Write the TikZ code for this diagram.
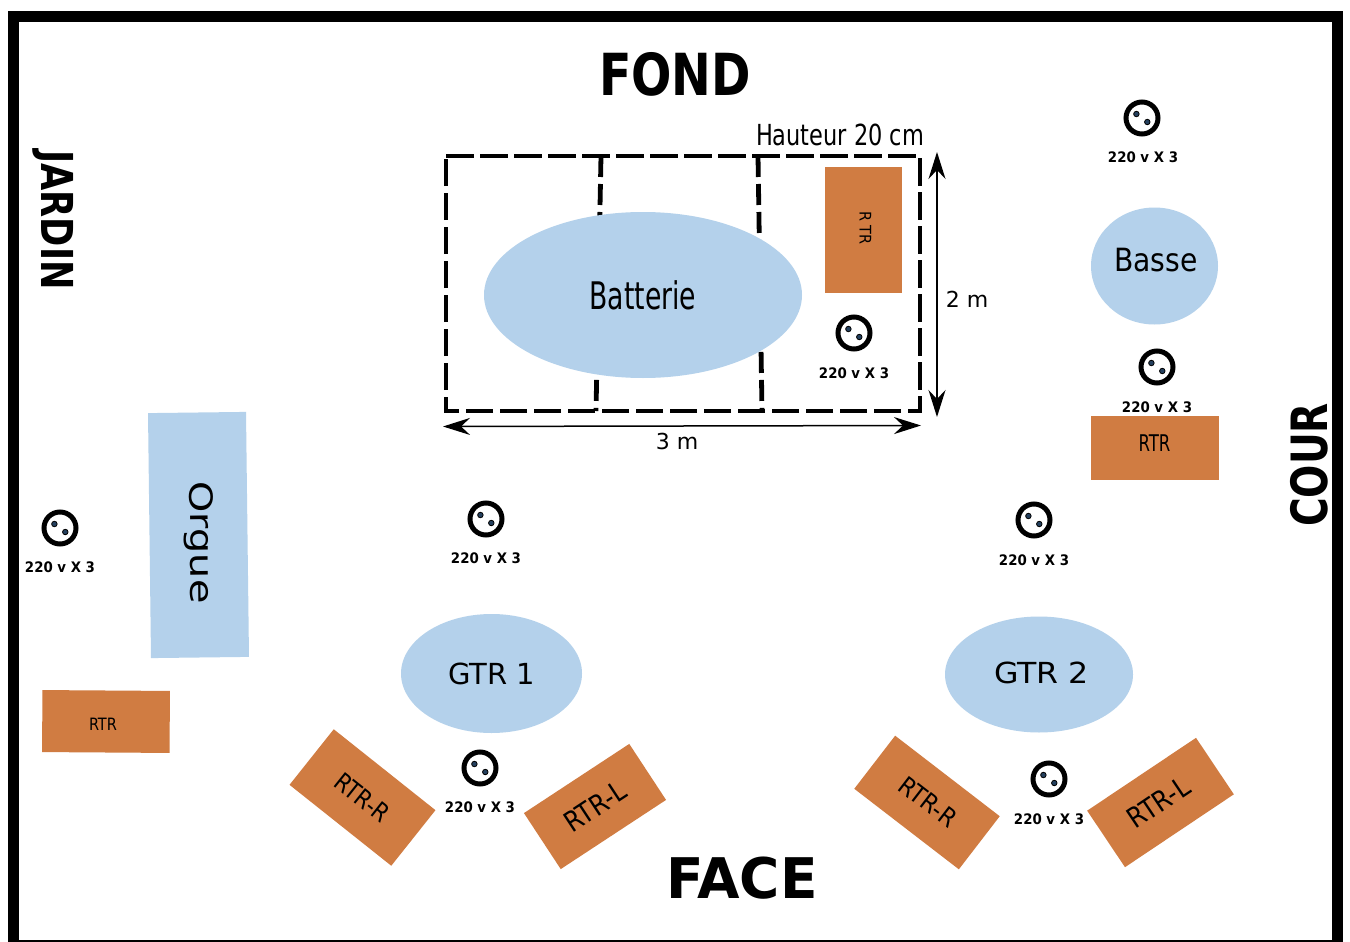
\documentclass[tikz,border=0pt]{standalone}
\usepackage{fontspec}
\setmainfont{DejaVu Sans}
\newfontfamily\cond{DejaVu Sans Condensed}
\usetikzlibrary{arrows.meta,calc,shapes.geometric}
\definecolor{blob}{HTML}{B4D1EB}
\definecolor{amp}{HTML}{D07C42}
\definecolor{pincol}{HTML}{24405E}
\newcommand{\fs}[1]{\fontsize{#1}{#1}\selectfont}
% socket: name, x, y of the socket, x, y of its label
\newcommand{\socket}[5]{%
  \node[plug] (#1) at (#2,#3) {};
  \node[pin] (#1a) at ($(#1)+(-5.6,-4)$) {};
  \node[pin] (#1b) at ($(#1)+(5.3,4)$) {};
  \node[plugtext] (#1t) at (#4,#5) {\scalebox{0.92}[1]{220 v X 3}};
}
\tikzset{
  x=1pt,y=-1pt,
  frame/.style={draw=black,line width=11pt,line join=miter},
  blobshape/.style={ellipse,fill=blob,inner sep=0pt,text=black},
  ampbox/.style={rectangle,fill=amp,inner sep=0pt,text=black},
  riser/.style={draw=black,line width=4.8pt,dash pattern=on 27.5pt off 6.5pt},
  divider/.style={draw=black,line width=4.8pt,dash pattern=on 21pt off 7pt},
  dim/.style={draw=black,line width=1.5pt,{Stealth[length=27pt,width=17pt,inset=9pt]}-{Stealth[length=27pt,width=17pt,inset=9pt]}},
  plug/.style={circle,draw=black,fill=white,line width=5pt,minimum size=32pt,inner sep=0pt},
  pin/.style={circle,draw=black,fill=pincol,line width=0.8pt,minimum size=5.5pt,inner sep=0pt},
  plugtext/.style={font=\bfseries\fs{14.5},inner sep=0pt},
  side/.style={inner sep=0pt},
  dimtext/.style={font=\fs{22},inner sep=0pt},
}
\begin{document}
\begin{tikzpicture}
\useasboundingbox (0,0) rectangle (1350,942);
\fill[white] (0,0) rectangle (1350,942);
\begin{scope}
\clip (0,0) rectangle (1350,942);
\draw[frame] (13.5,16.5) rectangle (1337.5,945);
\end{scope}

% titles
\node[side,font=\cond\bfseries\fs{58}] (fond) at (675,74) {\scalebox{0.91}[1]{FOND}};
\node[side,font=\bfseries\fs{56}] (face) at (742,878) {\scalebox{0.98}[1]{FACE}};
\node[side,rotate=-90,font=\cond\bfseries\fs{44}] (jardin) at (53,220) {\scalebox{0.89}[1]{JARDIN}};
\node[side,rotate=90,font=\cond\bfseries\fs{50}] (cour) at (1309,465) {\scalebox{0.87}[1]{COUR}};

% riser
\coordinate (rNW) at (446,156);
\coordinate (rNE) at (920,156);
\coordinate (rSE) at (920,411);
\coordinate (rSW) at (446,411);
\draw[riser] (rNW) -- (rNE) -- (rSE) -- (rSW) -- (rNW);
\coordinate (d1t) at (601,156);
\coordinate (d1b) at (596,411);
\coordinate (d2t) at (758,156);
\coordinate (d2b) at (762,411);
\draw[divider] (d1t) -- (d1b);
\draw[divider] (d2t) -- (d2b);
\node[font=\cond\fs{29},inner sep=0pt] (haut) at (840,135) {\scalebox{0.86}[1]{Hauteur 20 cm}};

% dimensions
\coordinate (dvT) at (937,152);
\coordinate (dvB) at (937,417);
\coordinate (dhL) at (443,426.5);
\coordinate (dhR) at (921,425.5);
\draw[dim] (dvT) -- (dvB);
\draw[dim] (dhL) -- (dhR);
\node[dimtext] (twom) at (967,299) {2 m};
\node[dimtext] (threem) at (677,441) {3 m};

% players
\node[blobshape,minimum width=318pt,minimum height=166pt,font=\cond\fs{38}] (batterie) at (643,295) {\scalebox{0.78}[1]{Batterie}};
\node[blobshape,minimum width=127pt,minimum height=117pt] (basse) at (1154.5,266) {};
\node[inner sep=0pt,font=\cond\fs{32}] (basset) at (1156,260) {\scalebox{0.98}[1]{Basse}};
\node[blobshape,minimum width=181pt,minimum height=119pt,font=\fs{29}] (gtr1) at (491.5,673.5) {GTR 1};
\node[blobshape,minimum width=188pt,minimum height=116pt] (gtr2) at (1039,674.5) {};
\node[inner sep=0pt,font=\fs{29}] (gtr2t) at (1041.5,672.5) {\scalebox{1.09}[1]{GTR 2}};
\node[rectangle,fill=blob,inner sep=0pt,minimum width=245pt,minimum height=98pt,rotate=-89.3] (orgue) at (198.5,535) {};
\node[inner sep=0pt,rotate=-89.3,font=\fs{32}] (orguet) at (199,542.5) {\scalebox{1.25}[1]{Orgue}};

% amps
\node[ampbox,minimum width=77pt,minimum height=126pt] (amp0) at (863.5,230) {};
\node[inner sep=0pt,font=\cond\fs{16},rotate=-90] (amp0t) at (865.5,228) {R TR};
\node[ampbox,minimum width=128pt,minimum height=64pt] (amp1) at (1155,448) {};
\node[inner sep=0pt,font=\cond\fs{23}] (amp1t) at (1154.5,443) {\scalebox{0.8}[1]{RTR}};
\node[ampbox,minimum width=127.5pt,minimum height=62pt,rotate=-0.4] (amp2) at (106,721.5) {};
\node[inner sep=0pt,font=\cond\fs{17}] (amp2t) at (103,724) {\scalebox{0.95}[1]{RTR}};
\node[ampbox,minimum width=130pt,minimum height=71pt,rotate=-38.5,font=\cond\fs{25}] (amp3) at (362.5,797.5) {\scalebox{0.95}[1]{RTR-R}};
\node[ampbox,minimum width=126pt,minimum height=67pt,rotate=33.3,font=\cond\fs{28}] (amp4) at (595,806.5) {\scalebox{0.97}[1]{RTR-L}};
\node[ampbox,minimum width=132pt,minimum height=67pt,rotate=-37.6] (amp5) at (927,802.5) {};
\node[inner sep=0pt,rotate=-37.6,font=\cond\fs{25}] (amp5t) at (928,802) {RTR-R};
\node[ampbox,minimum width=131pt,minimum height=68pt,rotate=33.8] (amp6) at (1160.5,802.5) {};
\node[inner sep=0pt,rotate=33.8,font=\cond\fs{28}] (amp6t) at (1158.5,802.5) {\scalebox{0.97}[1]{RTR-L}};

% sockets
\socket{sa}{1142}{118}{1143}{157}
\socket{sb}{854}{333}{854}{373}
\socket{sc}{1157}{367}{1157}{407}
\socket{sd}{60}{528}{60}{567}
\socket{se}{486}{519}{486}{558}
\socket{sf}{1034}{520}{1034}{560}
\socket{sg}{480}{768}{480}{807}
\socket{sh}{1049}{779}{1049}{819}
\end{tikzpicture}
\end{document}
